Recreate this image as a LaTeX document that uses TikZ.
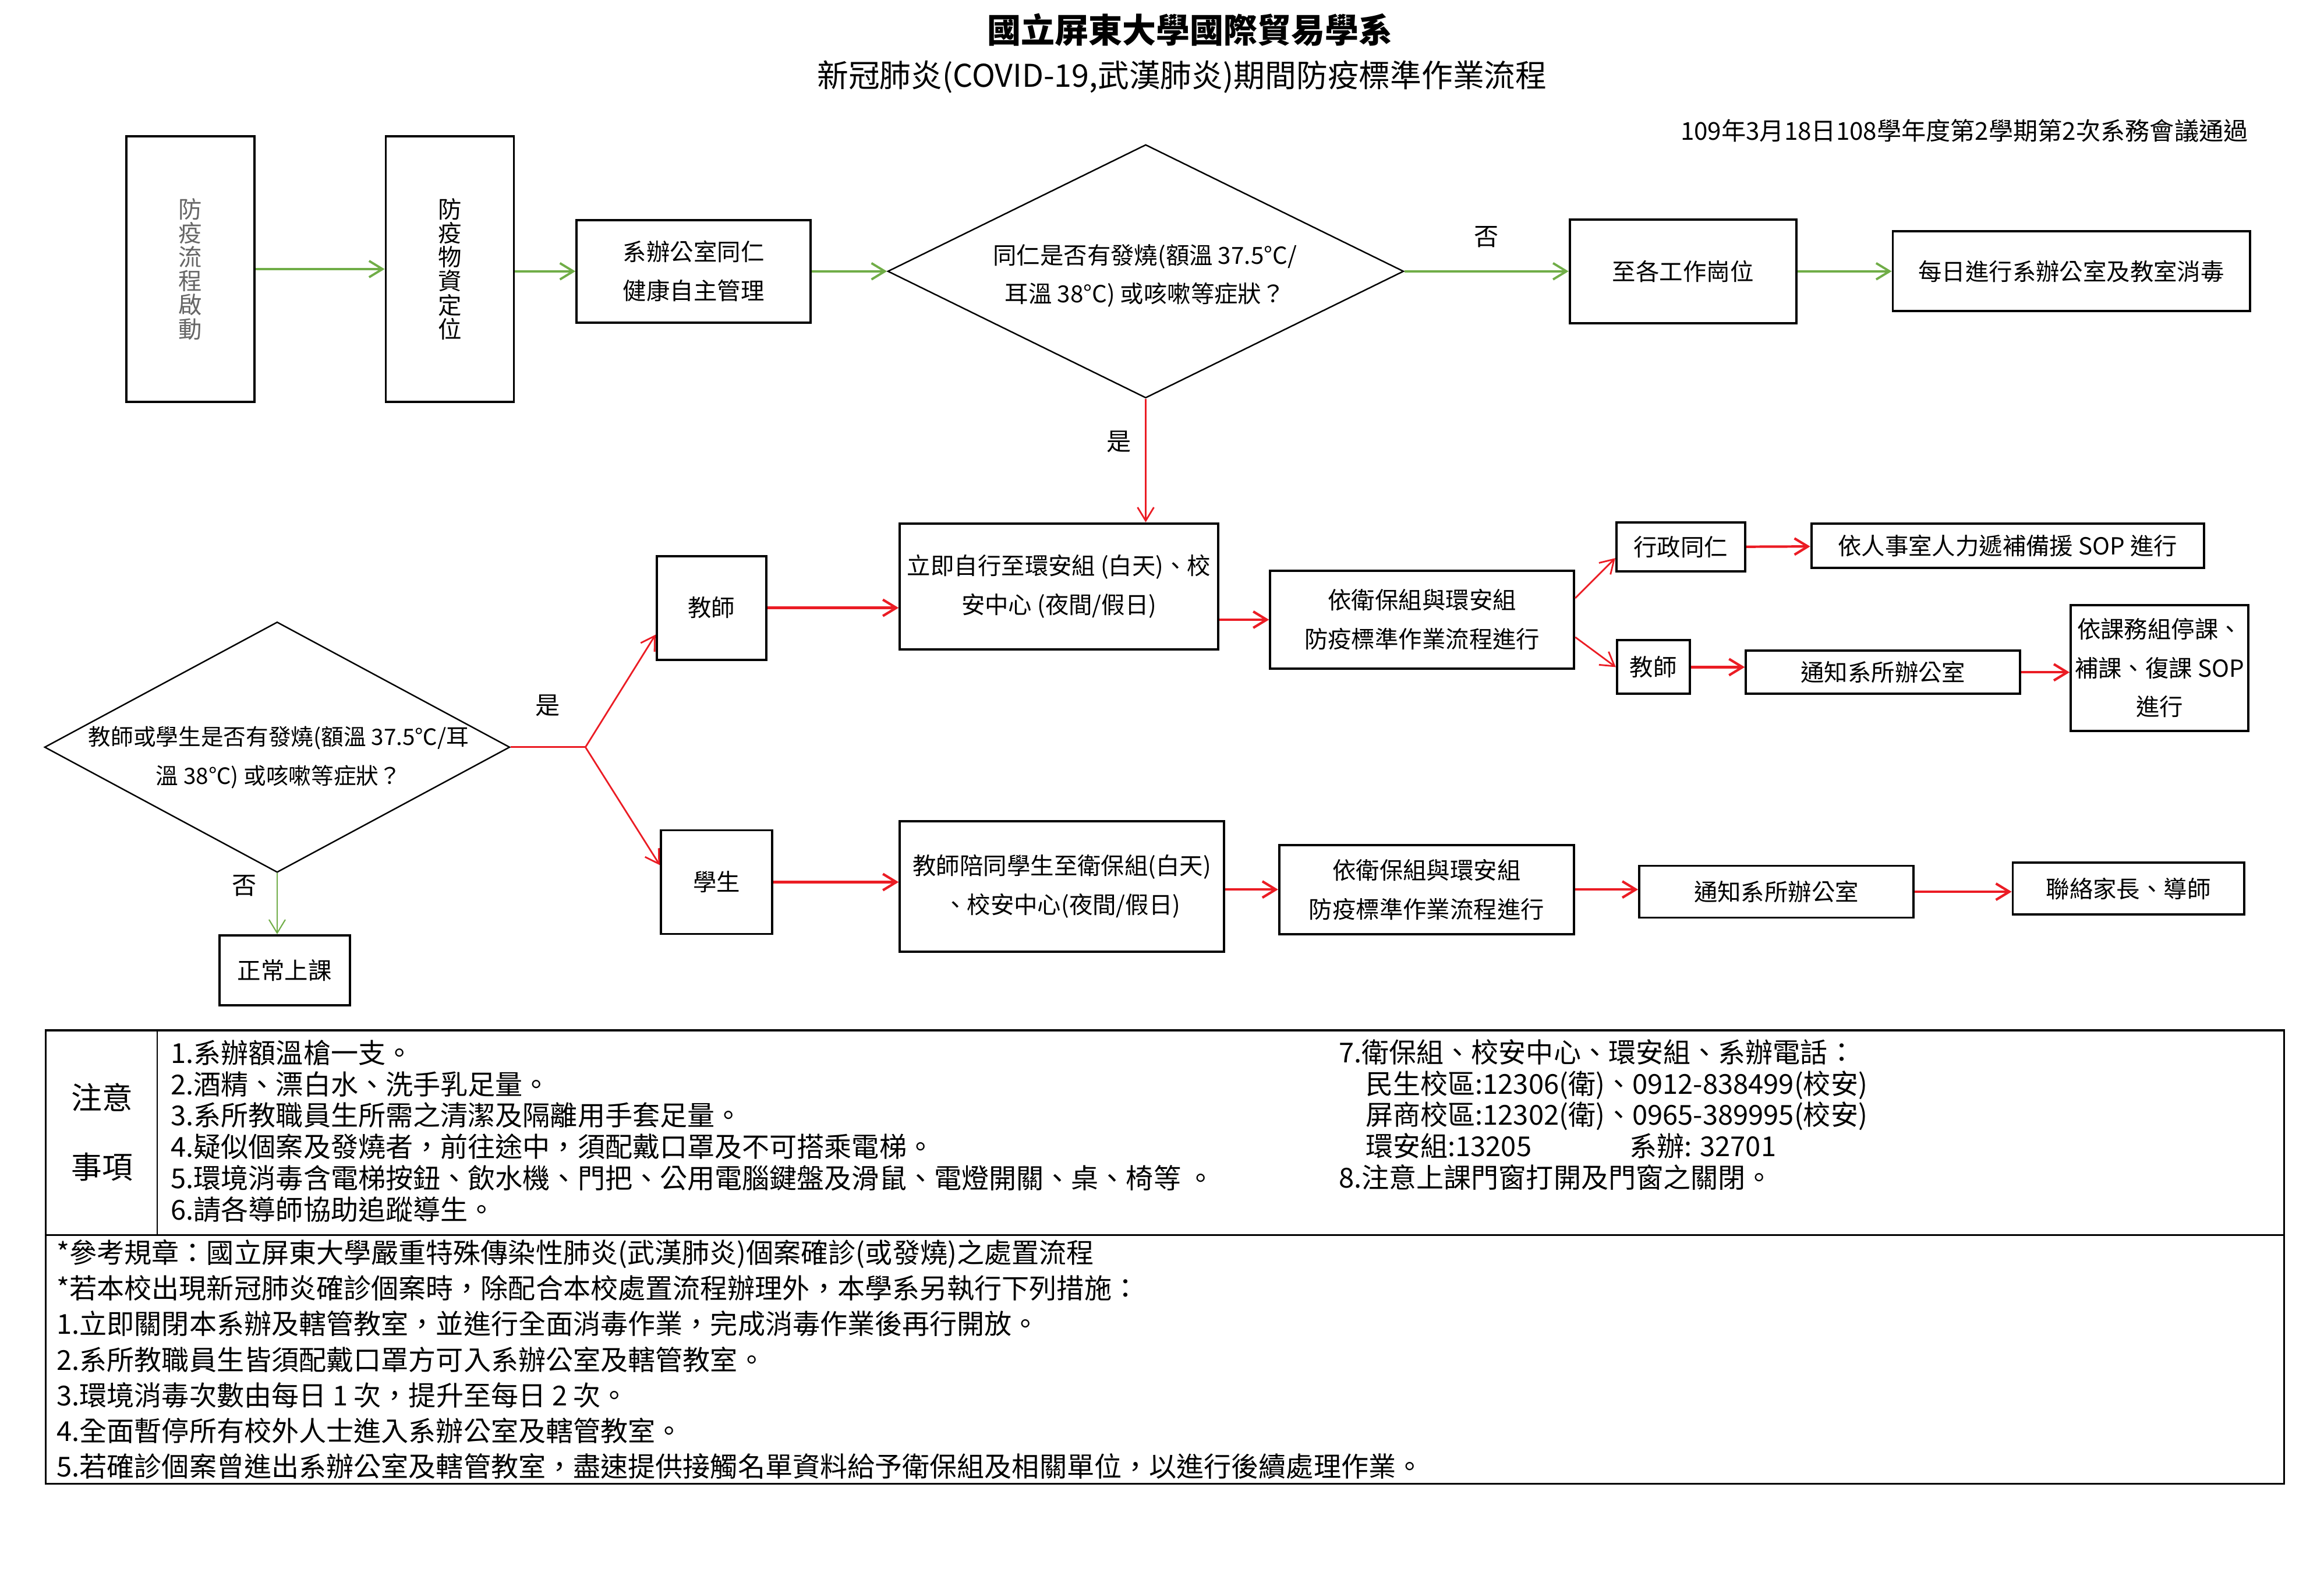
\documentclass[tikz,border=0pt]{standalone}
\usepackage{fontspec}
\setmainfont{Noto Sans CJK TC}
\usepackage{tikz}
\usetikzlibrary{shapes.geometric,arrows.meta}

\definecolor{flowgreen}{RGB}{112,173,71}
\definecolor{flowred}{RGB}{235,28,36}

\begin{document}
\begin{tikzpicture}
	[>={Straight Barb[length=2.3mm,width=2.8mm]}, x=0.02545cm, y=-0.02545cm]
	\tikzstyle{every node}=[font=\fontsize{11.5}{19}\selectfont]
	\tikzstyle{box}=[draw, line width=1.1pt, inner sep=0pt, align=center]
	\tikzstyle{upright}=[box, minimum width=2.2cm, minimum height=4.56cm, font=\fontsize{11.5}{11.7}\selectfont]
	\tikzstyle{decision}=[draw, diamond, line width=0.7pt, inner sep=0pt]
	\tikzstyle{goon}=[->, draw=flowgreen, line width=1.1pt]
	\tikzstyle{alarm}=[->, draw=flowred, line width=1.2pt]
	\tikzstyle{alarmthin}=[->, draw=flowred, line width=0.8pt]
	\tikzstyle{lbl}=[font=\fontsize{12}{12}\selectfont]
	\tikzstyle{notes}=[anchor=west, align=left, inner sep=0pt]

	\useasboundingbox (0,0) rectangle (1568,1060);

	% titles
	\node[font=\bfseries\fontsize{16.5}{16.5}\selectfont] (title) at (803,20) {國立屏東大學國際貿易學系};
	\node[font=\fontsize{15.3}{15.3}\selectfont] (subtitle) at (797.5,52) {新冠肺炎(COVID-19,武漢肺炎)期間防疫標準作業流程};
	\node[anchor=east, inner sep=0pt, font=\fontsize{12}{12}\selectfont] (approved) at (1517,88) {109年3月18日108學年度第2學期第2次系務會議通過};

	% staff flow
	\node[upright, text=black!60] (start) at (128.5,181.5) {防\\疫\\流\\程\\啟\\動};
	\node[upright] (stock) at (303.5,181.5) {防\\疫\\物\\資\\定\\位};
	\node[box, minimum width=4.02cm, minimum height=1.76cm] (selfcheck) at (468,183) {系辦公室同仁\\健康自主管理};
	\node[decision, minimum width=8.86cm, minimum height=4.35cm] (staffq) at (773,183) {};
	\node[align=center] (staffqtxt) at (772.5,186) {同仁是否有發燒(額溫 37.5°C/\\耳溫 38°C) 或咳嗽等症狀？};
	\node[box, minimum width=3.89cm, minimum height=1.78cm] (post) at (1135.5,183) {至各工作崗位};
	\node[box, minimum width=6.13cm, minimum height=1.37cm] (disinfect) at (1397.5,183) {每日進行系辦公室及教室消毒};

	% teacher branch
	\node[box, minimum width=5.47cm, minimum height=2.16cm] (tgo) at (714.5,395.5) {立即自行至環安組 (白天)、校\\安中心 (夜間/假日)};
	\node[box, minimum width=1.88cm, minimum height=1.78cm] (teacher) at (480,410) {教師};
	\node[box, minimum width=5.22cm, minimum height=1.68cm] (tsop) at (959.5,418) {依衛保組與環安組\\防疫標準作業流程進行};
	\node[box, minimum width=2.21cm, minimum height=0.84cm] (admin) at (1134,369) {行政同仁};
	\node[box, minimum width=6.74cm, minimum height=0.76cm] (hr) at (1354.5,368) {依人事室人力遞補備援 SOP 進行};
	\node[box, minimum width=1.25cm, minimum height=0.92cm] (teacher2) at (1115.5,450) {教師};
	\node[box, minimum width=4.71cm, minimum height=0.74cm] (notify1) at (1270.5,453.5) {通知系所辦公室};
	\node[box, minimum width=3.05cm, minimum height=2.16cm] (course) at (1457,450.5) {依課務組停課、\\補課、復課 SOP\\進行};

	% student branch
	\node[decision, minimum width=7.99cm, minimum height=4.30cm] (classq) at (187,504) {};
	\node[align=center, font=\fontsize{11}{19}\selectfont] (classqtxt) at (188,511) {教師或學生是否有發燒(額溫 37.5℃/耳\\溫 38℃) 或咳嗽等症狀？};
	\coordinate (split) at (395,504);
	\node[box, minimum width=1.91cm, minimum height=1.78cm] (student) at (483.5,595) {學生};
	\node[box, minimum width=5.57cm, minimum height=2.24cm] (sgo) at (716.5,598) {教師陪同學生至衛保組(白天)\\、校安中心(夜間/假日)};
	\node[box, minimum width=5.06cm, minimum height=1.53cm] (ssop) at (962.5,600) {依衛保組與環安組\\防疫標準作業流程進行};
	\node[box, minimum width=4.71cm, minimum height=0.89cm] (notify2) at (1198.5,601.5) {通知系所辦公室};
	\node[box, minimum width=3.97cm, minimum height=0.89cm] (parents) at (1436,599.5) {聯絡家長、導師};
	\node[box, minimum width=2.24cm, minimum height=1.2cm] (normal) at (192,654.5) {正常上課};

	\path (start) edge[goon] (stock)
		(stock.east |- selfcheck) edge[goon] (selfcheck)
		(selfcheck) edge[goon] (staffq)
		(staffq) edge[goon] node[lbl, yshift=0.59cm] {否} (post)
		(post) edge[goon] (disinfect)
		(staffq.south) edge[alarmthin] node[lbl, pos=0.35, xshift=-0.46cm] {是} (staffq.south |- tgo.north)
		(teacher) edge[alarm] (teacher -| tgo.west)
		(tgo.east |- tsop) edge[alarm] (tsop)
		([yshift=0.37cm]tsop.east) edge[alarmthin] ([yshift=-0.19cm]admin.west)
		([yshift=-0.3cm]tsop.east) edge[alarmthin] (teacher2.west)
		(admin) edge[alarm] (hr)
		(teacher2) edge[alarm] (teacher2 -| notify1.west)
		(notify1) edge[alarm] (notify1 -| course.west)
		(student) edge[alarm] (student -| sgo.west)
		(sgo.east |- ssop) edge[alarm] (ssop)
		(ssop) edge[alarm] (ssop -| notify2.west)
		(notify2) edge[alarm] (notify2 -| parents.west)
		(classq.south) edge[goon, line width=0.6pt] node[lbl, pos=0.21, xshift=-0.56cm] {否} (classq.south |- normal.north);
	\draw[draw=flowred, line width=0.8pt] (classq.east) -- node[lbl, yshift=0.71cm] {是} (split);
	\path (split) edge[alarmthin] ([yshift=-0.46cm]teacher.west)
		(split) edge[alarmthin] ([yshift=0.29cm]student.west);

	% notes table
	\draw[line width=0.9pt] (31,695) rectangle (1541,1001);
	\draw[line width=0.9pt] (31,833) -- (1541,833);
	\draw[line width=0.7pt] (106,695) -- (106,833);
	\node[font=\fontsize{15}{15}\selectfont] (notehead1) at (69,740) {注意};
	\node[font=\fontsize{15}{15}\selectfont] (notehead2) at (69,787) {事項};
	\node[notes, font=\fontsize{13.4}{15.3}\selectfont] (supplies) at (115,763) {1.系辦額溫槍一支。\\2.酒精、漂白水、洗手乳足量。\\3.系所教職員生所需之清潔及隔離用手套足量。\\4.疑似個案及發燒者，前往途中，須配戴口罩及不可搭乘電梯。\\5.環境消毒含電梯按鈕、飲水機、門把、公用電腦鍵盤及滑鼠、電燈開關、桌、椅等 。\\6.請各導師協助追蹤導生。};
	\node[notes, font=\fontsize{13.4}{15.3}\selectfont] (phones) at (903,752) {7.衛保組、校安中心、環安組、系辦電話：\\\hspace*{0.46cm}民生校區:12306(衛)、0912-838499(校安)\\\hspace*{0.46cm}屏商校區:12302(衛)、0965-389995(校安)\\\hspace*{0.46cm}\makebox[4.53cm][l]{環安組:13205}系辦: 32701\\8.注意上課門窗打開及門窗之關閉。};
	\node[notes, font=\fontsize{13.4}{17.4}\selectfont] (rules) at (38,917) {*參考規章：國立屏東大學嚴重特殊傳染性肺炎(武漢肺炎)個案確診(或發燒)之處置流程\\*若本校出現新冠肺炎確診個案時，除配合本校處置流程辦理外，本學系另執行下列措施：\\1.立即關閉本系辦及轄管教室，並進行全面消毒作業，完成消毒作業後再行開放。\\2.系所教職員生皆須配戴口罩方可入系辦公室及轄管教室。\\3.環境消毒次數由每日 1 次，提升至每日 2 次。\\4.全面暫停所有校外人士進入系辦公室及轄管教室。\\5.若確診個案曾進出系辦公室及轄管教室，盡速提供接觸名單資料給予衛保組及相關單位，以進行後續處理作業。};
\end{tikzpicture}
\end{document}
